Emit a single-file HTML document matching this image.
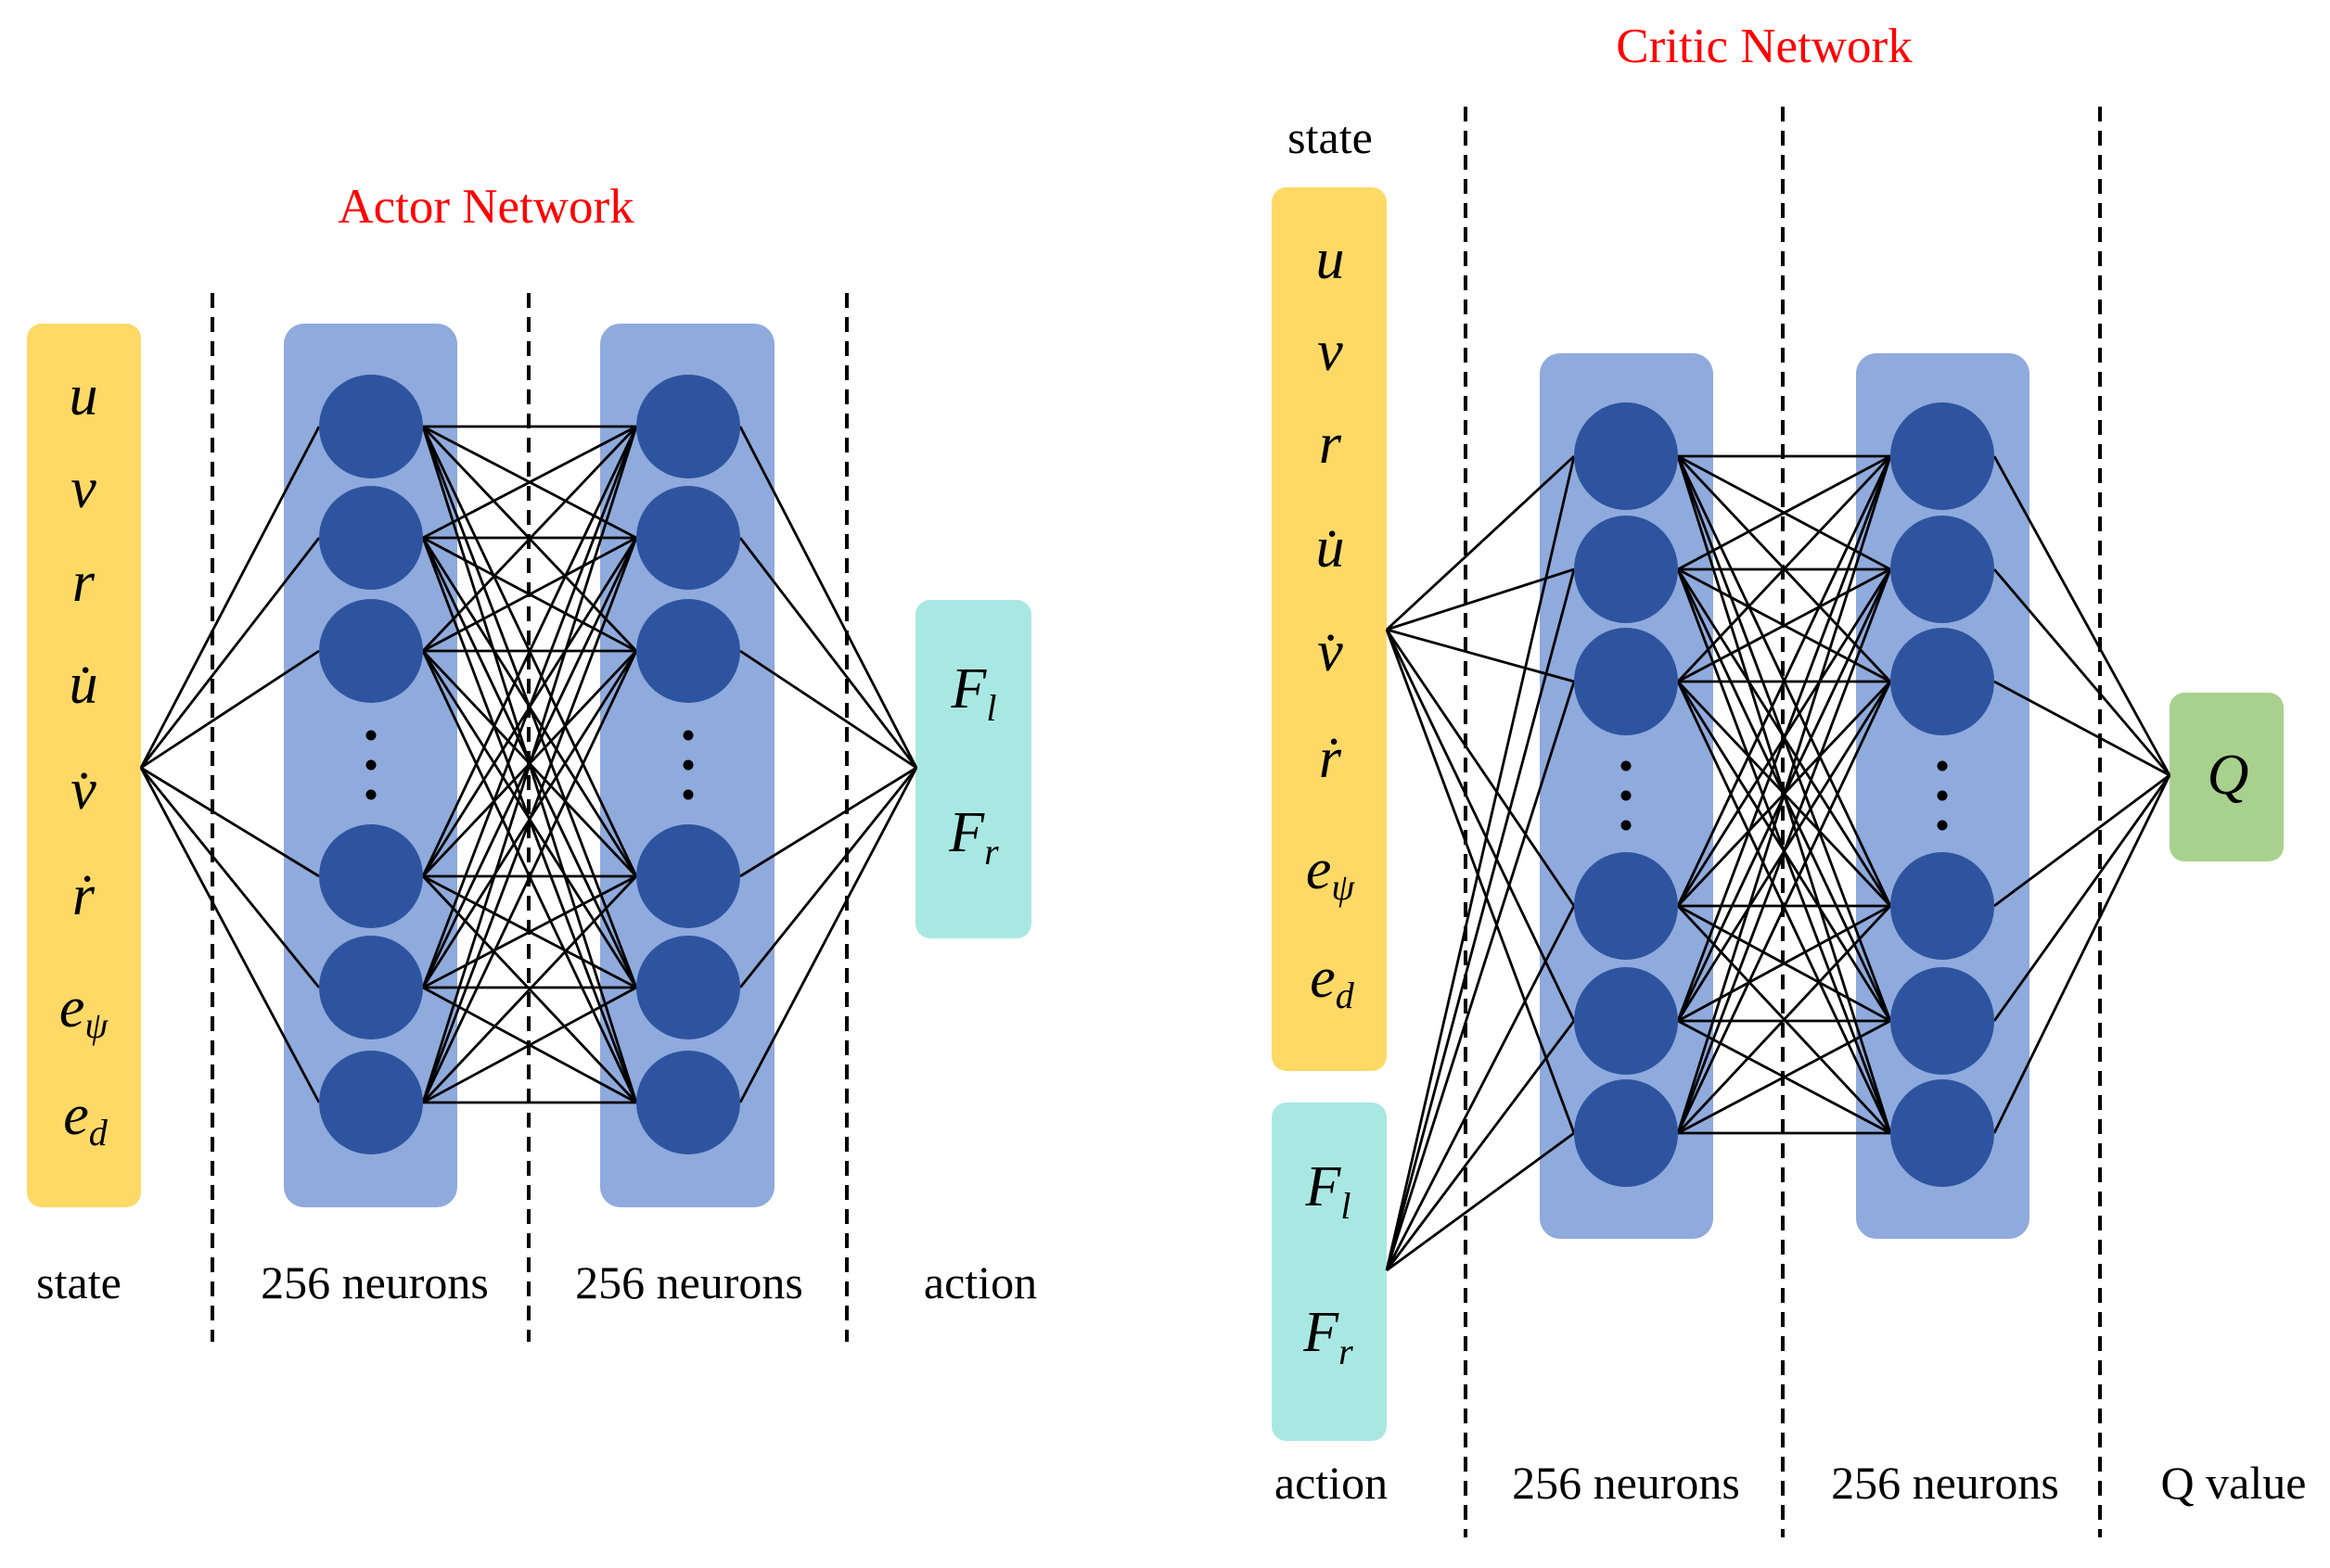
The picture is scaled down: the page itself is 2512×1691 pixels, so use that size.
<!DOCTYPE html>
<html><head><meta charset="utf-8"><style>
html,body{margin:0;padding:0;background:#fff}
text{font-family:"Liberation Serif","DejaVu Serif",serif}
.v{font-family:"Liberation Serif",serif;font-style:italic;font-size:62px;text-anchor:middle}
.l{font-family:"Liberation Serif",serif;font-size:50px;text-anchor:middle}
.t{font-family:"Liberation Serif",serif;font-size:53px;fill:#ff0000;text-anchor:middle}
</style></head><body>
<svg width="2512" height="1686" viewBox="0 0 2512 1686" xmlns="http://www.w3.org/2000/svg" font-family="Liberation Serif, serif">
<g id="actor">
<text class="t" x="524" y="240">Actor Network</text>
<rect x="29" y="349" width="123" height="953" rx="16" fill="#FFD966"/>
<rect x="306" y="349" width="187" height="953" rx="22" fill="#8FAADC"/>
<rect x="647" y="349" width="188" height="953" rx="22" fill="#8FAADC"/>
<rect x="987" y="647" width="125" height="365" rx="16" fill="#A9E8E2"/>
<g stroke="#000" stroke-width="4" stroke-dasharray="16,10">
<line x1="229" y1="316" x2="229" y2="1447"/><line x1="570" y1="316" x2="570" y2="1447"/><line x1="913" y1="316" x2="913" y2="1447"/>
</g>
<g id="alines" stroke="#000" stroke-width="2.8"></g>
<g fill="#2E54A0" id="anodes"></g>
<g fill="#000"><circle cx="400" cy="793" r="5.5"/><circle cx="400" cy="825" r="5.5"/><circle cx="400" cy="857" r="5.5"/>
<circle cx="742" cy="793" r="5.5"/><circle cx="742" cy="825" r="5.5"/><circle cx="742" cy="857" r="5.5"/></g>
<text class="v" x="90" y="447">u</text><text class="v" x="90" y="547">v</text><text class="v" x="90" y="648">r</text>
<text class="v" x="90" y="758">u̇</text><text class="v" x="90" y="872">v̇</text><text class="v" x="90" y="986">ṙ</text>
<text class="v" x="90" y="1107">e<tspan font-size="40" dy="12">ψ</tspan></text>
<text class="v" x="92" y="1223">e<tspan font-size="40" dy="12">d</tspan></text>
<text class="v" x="1050" y="763">F<tspan font-size="40" dy="14">l</tspan></text>
<text class="v" x="1050" y="918">F<tspan font-size="40" dy="14">r</tspan></text>
<text class="l" x="85" y="1400">state</text><text class="l" x="404" y="1400">256 neurons</text>
<text class="l" x="743" y="1400">256 neurons</text><text class="l" x="1057" y="1400">action</text>
</g>
<g id="critic">
<text class="t" x="1902" y="67">Critic Network</text>
<text class="l" x="1434" y="165">state</text>
<rect x="1371" y="202" width="124" height="953" rx="16" fill="#FFD966"/>
<rect x="1371" y="1189" width="124" height="365" rx="16" fill="#A9E8E2"/>
<rect x="1660" y="381" width="187" height="955" rx="22" fill="#8FAADC"/>
<rect x="2001" y="381" width="187" height="955" rx="22" fill="#8FAADC"/>
<rect x="2339" y="747" width="123" height="182" rx="16" fill="#A9D18E"/>
<g stroke="#000" stroke-width="4" stroke-dasharray="16,10">
<line x1="1580" y1="115" x2="1580" y2="1658"/><line x1="1922" y1="115" x2="1922" y2="1658"/><line x1="2264" y1="115" x2="2264" y2="1658"/>
</g>
<g id="clines" stroke="#000" stroke-width="2.8"></g>
<g fill="#2E54A0" id="cnodes"></g>
<g fill="#000"><circle cx="1753" cy="826" r="5.5"/><circle cx="1753" cy="858" r="5.5"/><circle cx="1753" cy="890" r="5.5"/>
<circle cx="2094" cy="826" r="5.5"/><circle cx="2094" cy="858" r="5.5"/><circle cx="2094" cy="890" r="5.5"/></g>
<text class="v" x="1434" y="300">u</text><text class="v" x="1434" y="399">v</text><text class="v" x="1434" y="499">r</text>
<text class="v" x="1434" y="611">u̇</text><text class="v" x="1434" y="723">v̇</text><text class="v" x="1434" y="838">ṙ</text>
<text class="v" x="1434" y="958">e<tspan font-size="40" dy="12">ψ</tspan></text>
<text class="v" x="1436" y="1075">e<tspan font-size="40" dy="12">d</tspan></text>
<text class="v" x="1432" y="1300">F<tspan font-size="40" dy="14">l</tspan></text>
<text class="v" x="1432" y="1457">F<tspan font-size="40" dy="14">r</tspan></text>
<text class="v" x="2402" y="856" font-size="66">Q</text>
<text class="l" x="1435" y="1616">action</text><text class="l" x="1753" y="1616">256 neurons</text>
<text class="l" x="2097" y="1616">256 neurons</text><text class="l" x="2408" y="1616">Q value</text>
</g>
<script>
var NS="http://www.w3.org/2000/svg";
function L(g,x1,y1,x2,y2){var l=document.createElementNS(NS,"line");l.setAttribute("x1",x1);l.setAttribute("y1",y1);l.setAttribute("x2",x2);l.setAttribute("y2",y2);g.appendChild(l);}
function E(g,cx,cy,rx,ry){var e=document.createElementNS(NS,"ellipse");e.setAttribute("cx",cx);e.setAttribute("cy",cy);e.setAttribute("rx",rx);e.setAttribute("ry",ry);g.appendChild(e);}
function net(lines,nodes,x1,x2,ys,rx,ry,ins,out){
 var g=document.getElementById(lines),n=document.getElementById(nodes);
 ins.forEach(function(p){ys.forEach(function(y){L(g,p[0],p[1],x1-rx,y);});});
 ys.forEach(function(a){ys.forEach(function(b){L(g,x1+rx,a,x2-rx,b);});});
 ys.forEach(function(y){L(g,x2+rx,y,out[0],out[1]);});
 ys.forEach(function(y){E(n,x1,y,rx,ry);E(n,x2,y,rx,ry);});
}
net("alines","anodes",400,742,[460,580,702,945,1065,1189],56,56,[[152,828]],[988,828]);
net("clines","cnodes",1753,2094,[492,614,735,977,1101,1222],56,58,[[1495,679],[1495,1370]],[2339,836]);
</script>
</svg>
</body></html>
